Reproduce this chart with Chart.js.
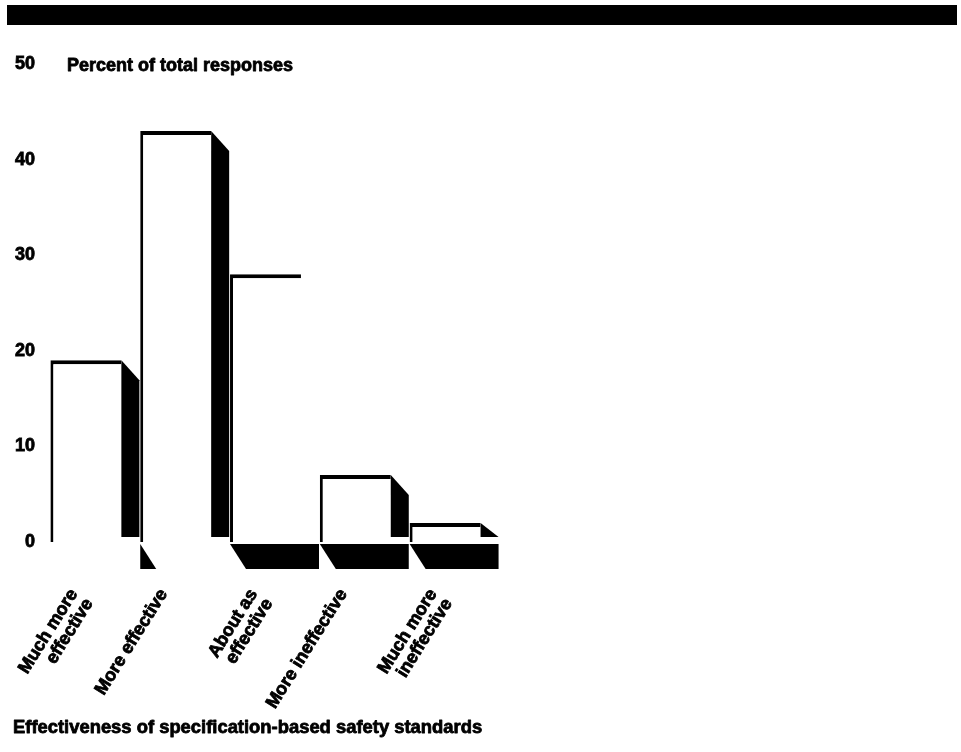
<!DOCTYPE html>
<html>
<head>
<meta charset="utf-8">
<script src="https://cdn.jsdelivr.net/npm/chart.js@4.4.1/dist/chart.umd.min.js"></script>
<style>
  html, body { margin: 0; padding: 0; background: #ffffff; }
  #wrap { width: 961px; height: 752px; position: relative; }
</style>
</head>
<body>
<div id="wrap"><canvas id="c" width="961" height="752"></canvas></div>
<script>
// ---- data ----
const categories = [
  ['Much more', 'effective'],
  'More effective',
  ['About as', 'effective'],
  'More ineffective',
  ['Much more', 'ineffective']
];
const percentValues = [19, 43, 28, 7, 2];
const yTicks = [0, 10, 20, 30, 40, 50];
const yAxisTitle = 'Percent of total responses';
const xAxisTitle = 'Effectiveness of specification-based safety standards';

// ---- decoration style (not data) ----
const sideShadowOn = [true, true, false, true, true];
const floorStyle = ['none', 'tri', 'full', 'full', 'full'];
const FONT = '"Liberation Sans", Arial, sans-serif';

const decoPlugin = {
  id: 'deco',
  beforeDraw(chart) {
    const ctx = chart.ctx;
    ctx.save();
    ctx.fillStyle = '#ffffff';
    ctx.fillRect(0, 0, chart.width, chart.height);
    ctx.fillStyle = '#000000';
    ctx.fillRect(7, 5, 950, 20);
    ctx.restore();
  },
  afterDatasetsDraw(chart) {
    const ctx = chart.ctx;
    const meta = chart.getDatasetMeta(0);
    const d = 18, dy = 20;
    ctx.save();
    ctx.fillStyle = '#000000';
    meta.data.forEach((bar, i) => {
      const p = bar.getProps(['x', 'y', 'base', 'width'], true);
      const L = p.x - p.width / 2, R = p.x + p.width / 2;
      const top = p.y, base = p.base;
      if (sideShadowOn[i]) {
        ctx.beginPath();
        ctx.moveTo(R, top);
        ctx.lineTo(R + d, Math.min(top + dy, base - 5));
        ctx.lineTo(R + d, base - 5);
        ctx.lineTo(R, base - 5);
        ctx.closePath();
        ctx.fill();
      }
      const b0 = base + 2, b1 = base + 27;
      if (floorStyle[i] === 'full') {
        ctx.beginPath();
        ctx.moveTo(L, b0);
        ctx.lineTo(R + d, b0);
        ctx.lineTo(R + d, b1);
        ctx.lineTo(L + 16, b1);
        ctx.closePath();
        ctx.fill();
      } else if (floorStyle[i] === 'tri') {
        ctx.beginPath();
        ctx.moveTo(L, b0);
        ctx.lineTo(L + 16, b1);
        ctx.lineTo(L, b1);
        ctx.closePath();
        ctx.fill();
      }
    });
    ctx.restore();
  },
  afterDraw(chart) {
    const ctx = chart.ctx;
    const ys = chart.scales.y;
    ctx.save();
    ctx.fillStyle = '#000000';
    ctx.strokeStyle = '#000000';
    ctx.lineWidth = 0.8;
    ctx.lineJoin = 'round';
    ctx.font = 'bold 18px ' + FONT;
    ctx.textAlign = 'left';
    ctx.textBaseline = 'middle';
    const ty = ys.getPixelForValue(50) + 2;
    ctx.strokeText(yAxisTitle, 67, ty);
    ctx.fillText(yAxisTitle, 67, ty);
    ctx.font = 'bold 18.4px ' + FONT;
    ctx.textBaseline = 'alphabetic';
    ctx.strokeText(xAxisTitle, 13, 733);
    ctx.fillText(xAxisTitle, 13, 733);
    ctx.restore();
  }
};

new Chart(document.getElementById('c'), {
  type: 'bar',
  data: {
    labels: categories,
    datasets: [{
      data: percentValues,
      backgroundColor: '#ffffff',
      borderColor: '#000000',
      borderWidth: { top: 4, left: 3, right: 0, bottom: 0 },
      borderSkipped: 'start',
      barPercentage: 0.79,
      categoryPercentage: 1.0
    }]
  },
  options: {
    responsive: false,
    devicePixelRatio: 1,
    animation: false,
    events: [],
    layout: { padding: { top: 64, left: 0, right: 471, bottom: 0 } },
    plugins: { legend: { display: false }, tooltip: { enabled: false }, title: { display: false } },
    scales: {
      x: {
        grid: { display: false, drawTicks: false },
        border: { display: false },
        ticks: {
          color: '#000000',
          textStrokeColor: '#000000',
          textStrokeWidth: 0.8,
          font: { family: FONT, size: 18, weight: 'bold', lineHeight: 1.0 },
          maxRotation: 58, minRotation: 58,
          autoSkip: false,
          labelOffset: -12,
          padding: 44
        },
        afterFit(scale) {
          scale.height = 752 - 542;
          scale.paddingLeft = 0;
          scale.paddingRight = 0;
        }
      },
      y: {
        min: 0, max: 50,
        grid: { display: false, drawTicks: false },
        border: { display: false },
        afterBuildTicks(scale) { scale.ticks = yTicks.map(v => ({ value: v })); },
        ticks: {
          color: '#000000',
          textStrokeColor: '#000000',
          textStrokeWidth: 0.8,
          font: { family: FONT, size: 18, weight: 'bold' },
          padding: 6
        },
        afterFit(scale) { scale.width = 41; }
      }
    }
  },
  plugins: [decoPlugin]
});
</script>
</body>
</html>
